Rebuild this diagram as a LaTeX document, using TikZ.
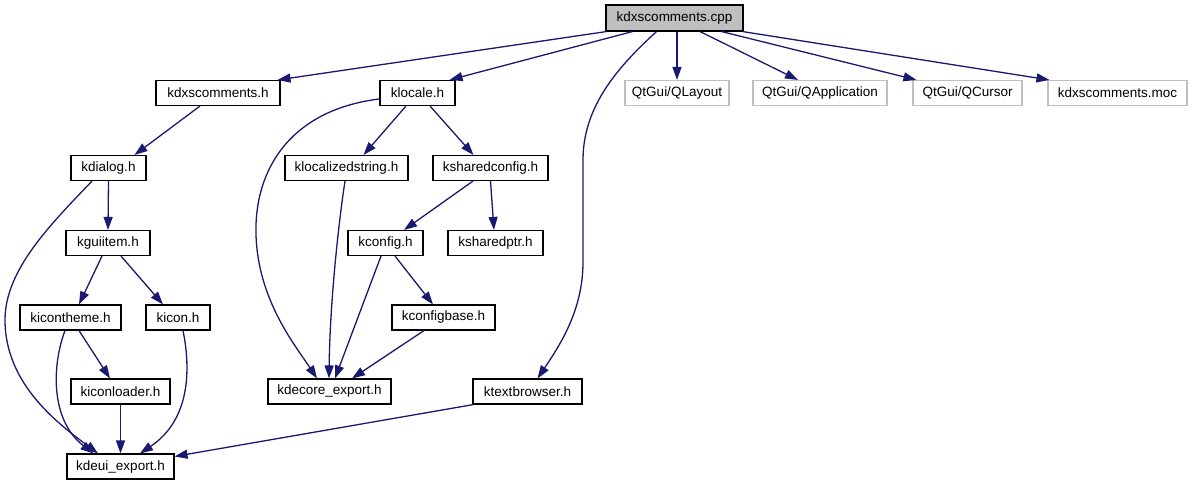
\documentclass[tikz,border=0pt]{standalone}
\usepackage{fontspec}
\setmainfont{Liberation Sans}
\usetikzlibrary{arrows.meta}
\definecolor{edgecol}{HTML}{191970}
\definecolor{graybd}{HTML}{BFBFBF}
\begin{document}
\begin{tikzpicture}[x=1pt,y=-1pt,
  box/.style={draw=black,line width=1.1pt,inner sep=0pt,minimum height=25pt,font=\fontsize{13.5}{16}\selectfont},
  ext/.style={box,draw=graybd},
  root/.style={box,fill=graybd},
  dep/.style={draw=edgecol,line width=1.3pt,-{Triangle[length=13pt,width=9pt]},color=edgecol}]
\useasboundingbox (0,0) rectangle (1193,485);
\node[root,minimum width=137pt,minimum height=26pt] (cpp) at (674.5,18) {kdxscomments.cpp};
\node[box,minimum width=124pt] (kdxh) at (218,93) {kdxscomments.h};
\node[box,minimum width=75pt] (klocale) at (417.5,93) {klocale.h};
\node[ext,minimum width=104pt] (qlayout) at (677,93) {QtGui/QLayout};
\node[ext,minimum width=134pt] (qapp) at (820,93) {QtGui/QApplication};
\node[ext,minimum width=109pt] (qcursor) at (967.5,93) {QtGui/QCursor};
\node[ext,minimum width=139pt] (moc) at (1117.5,93) {kdxscomments.moc};
\node[box,minimum width=75pt] (kdialog) at (108.5,168) {kdialog.h};
\node[box,minimum width=123pt] (klocstr) at (346.5,168) {klocalizedstring.h};
\node[box,minimum width=115pt] (kshcfg) at (490.5,168) {ksharedconfig.h};
\node[box,minimum width=84pt] (kguiitem) at (108,243) {kguiitem.h};
\node[box,minimum width=75pt] (kconfig) at (385.5,243) {kconfig.h};
\node[box,minimum width=95pt] (kshptr) at (495.5,243) {ksharedptr.h};
\node[box,minimum width=101pt] (kicontheme) at (70.5,317.5) {kicontheme.h};
\node[box,minimum width=64pt] (kicon) at (178,317.5) {kicon.h};
\node[box,minimum width=103pt] (kcfgbase) at (443.5,317.5) {kconfigbase.h};
\node[box,minimum width=99pt] (kiconloader) at (120.5,391.5) {kiconloader.h};
\node[box,minimum width=123pt] (kdecore) at (329.5,391.5) {kdecore\_export.h};
\node[box,minimum width=109pt] (ktb) at (527.5,391.5) {ktextbrowser.h};
\node[box,minimum width=107pt] (kdeui) at (120.5,466.5) {kdeui\_export.h};

\draw[dep] ([xshift=1pt]cpp.south west) -- ([xshift=-3pt]kdxh.north east);
\draw[dep] ([xshift=-42pt]cpp.south) -- ([xshift=-6pt]klocale.north east);
\draw[dep] ([xshift=-18pt]cpp.south) .. controls (620,65) and (583,105) .. (583,160) -- (583,262) .. controls (583,310) and (560,345) .. ([xshift=10pt]ktb.north);
\draw[dep] (cpp.south -| qlayout.north) -- (qlayout.north);
\draw[dep] ([xshift=25.5pt]cpp.south) -- ([xshift=-22pt]qapp.north);
\draw[dep] ([xshift=47pt]cpp.south) -- ([xshift=4pt]qcursor.north west);
\draw[dep] ([xshift=-1pt]cpp.south east) -- ([xshift=2pt]moc.north west);
\draw[dep] ([xshift=-18pt]kdxh.south) -- ([xshift=26pt]kdialog.north);
\draw[dep] ([xshift=-11.5pt]klocale.south) -- ([xshift=17pt]klocstr.north);
\draw[dep] ([xshift=12.5pt]klocale.south) -- ([xshift=-17pt]kshcfg.north);
\draw[dep] ([yshift=-19pt]klocale.north west) .. controls (290,110) and (254,170) .. (256,235) .. controls (258,300) and (295,345) .. ([xshift=-12.5pt]kdecore.north);
\draw[dep] ([xshift=-1.5pt]klocstr.south) .. controls (339,220) and (330,300) .. ([xshift=-0.5pt]kdecore.north);
\draw[dep] ([xshift=-17.5pt]kshcfg.south) -- ([xshift=18.5pt]kconfig.north);
\draw[dep] (kshcfg.south) -- ([xshift=-1.5pt]kshptr.north);
\draw[dep] (kdialog.south) -- (kguiitem.north);
\draw[dep] ([xshift=-16.5pt]kdialog.south) .. controls (50,225) and (5,270) .. (5,320) .. controls (5,385) and (60,425) .. ([xshift=-22.5pt]kdeui.north);
\draw[dep] ([xshift=-6pt]kguiitem.south) -- ([xshift=8.5pt]kicontheme.north);
\draw[dep] ([xshift=13pt]kguiitem.south) -- ([xshift=-15pt]kicon.north);
\draw[dep] ([xshift=8.5pt]kicontheme.south) -- ([xshift=-10.5pt]kiconloader.north);
\draw[dep] ([xshift=-5.5pt]kicontheme.south) .. controls (52,365) and (50,420) .. ([xshift=-27pt]kdeui.north);
\draw[dep] (kiconloader.south) -- (kdeui.north);
\draw[dep] ([xshift=5pt]kicon.south) .. controls (191,370) and (190,420) .. ([xshift=19.5pt]kdeui.north);
\draw[dep] ([xshift=-4.5pt]kconfig.south) -- ([xshift=5.5pt]kdecore.north);
\draw[dep] ([xshift=9.5pt]kconfig.south) -- ([xshift=-10.5pt]kcfgbase.north);
\draw[dep] ([xshift=-19.5pt]kcfgbase.south) -- ([xshift=22.5pt]kdecore.north);
\draw[dep] ([xshift=1pt]ktb.south west) -- ([yshift=-3pt]kdeui.north east);
\end{tikzpicture}
\end{document}
